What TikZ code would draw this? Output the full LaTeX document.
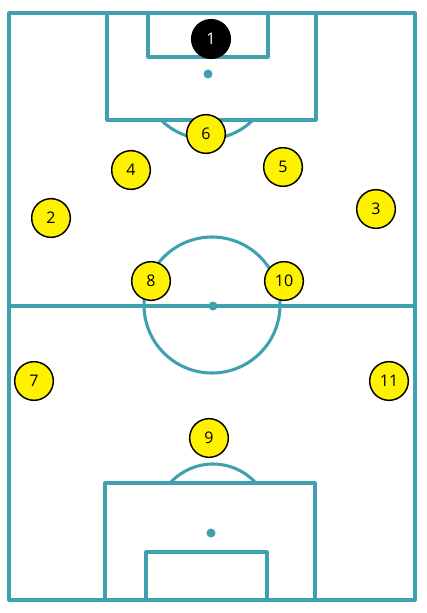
\documentclass[tikz,border=0pt]{standalone}
\usepackage{fontspec}
\setmainfont{Open Sans}
\usepackage{xcolor}
\definecolor{pitch}{HTML}{3FA1B0}
\definecolor{shirt}{HTML}{FFF200}

\begin{document}
\begin{tikzpicture}[x=0.75pt,y=-0.75pt,line join=round,
    every node/.style={circle,draw=black,line width=1.1pt,fill=shirt,
      minimum size=29pt,inner sep=0pt,font=\fontsize{12}{14}\selectfont}]
    \useasboundingbox (0,0) rectangle (426,613);

    % pitch lines
    \begin{scope}[draw=pitch,line width=2.3pt]
    \draw (9,13) rectangle (415,600);
    \draw (9,306) -- (415,306);
    \draw (212,305) circle[radius=68];
    % top half
    \draw (107,13) rectangle (316,120);
    \draw (148,13) rectangle (268,57);
    \begin{scope}
      \clip (100,120) rectangle (320,170);
      \draw (207,74) circle[radius=65];
    \end{scope}
    % bottom half
    \draw (105,483) rectangle (315,600);
    \draw (146,552) rectangle (267,600);
    \begin{scope}
      \clip (100,430) rectangle (320,483);
      \draw (213,522) circle[radius=58];
    \end{scope}
    \end{scope}

    % spots
    \fill[pitch] (208,74) circle[radius=4.5];
    \fill[pitch] (213,306) circle[radius=4.5];
    \fill[pitch] (211,533) circle[radius=4.5];

    % players
    \node[fill=black,text=white] (p1) at (211,39) {1};
    \node (p2) at (51,218) {2};
    \node (p3) at (376,209) {3};
    \node (p4) at (131,170) {4};
    \node (p5) at (283,167) {5};
    \node (p6) at (206,134) {6};
    \node (p7) at (34,381) {7};
    \node (p8) at (151,281) {8};
    \node (p9) at (209,438) {9};
    \node (p10) at (284,281) {10};
    \node (p11) at (389,381) {11};
\end{tikzpicture}
\end{document}
